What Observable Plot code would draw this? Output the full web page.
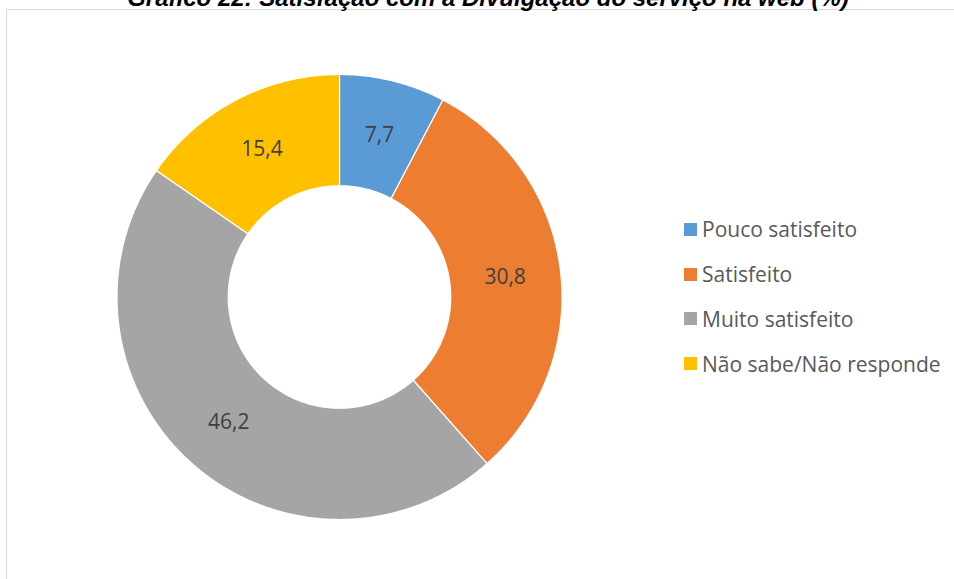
<!DOCTYPE html>
<html>
<head>
<meta charset="utf-8">
<script src="https://cdn.jsdelivr.net/npm/d3@7"></script>
<script src="https://cdn.jsdelivr.net/npm/@observablehq/plot@0.6"></script>
<style>
  html, body { margin: 0; padding: 0; background: #fff; overflow: hidden; }
  body { width: 954px; height: 579px; position: relative; font-family: "Open Sans", sans-serif; }
  #title { position: absolute; left: 0; width: 976px; top: -14px; text-align: center;
           font: italic bold 24px "Liberation Sans", Arial, sans-serif; line-height: 24px; color: #000; white-space: nowrap; }
  #frame { position: absolute; left: 6px; top: 9px; width: 960px; height: 600px;
           border-left: 1.5px solid #d9d9d9; border-top: 1.5px solid #d9d9d9; }
  #chart { position: absolute; left: 0; top: 0; }
  #legend { position: absolute; left: 684px; top: 207px; }
</style>
</head>
<body>
<div id="frame"></div>
<div id="title">Gráfico 22: Satisfação com a Divulgação do serviço na web (%)</div>
<div id="chart"></div>
<div id="legend"></div>
<script>
const categories = ["Pouco satisfeito", "Satisfeito", "Muito satisfeito", "Não sabe/Não responde"];
const values = [7.7, 30.8, 46.2, 15.4];
const labels = ["7,7", "30,8", "46,2", "15,4"];
const colors = ["#5B9BD5", "#ED7D31", "#A5A5A5", "#FFC000"];

const innerR = 0.5, outerR = 1, labelR = 0.75;
const arcs = d3.pie().sort(null).value(d => d)(values);

// polygon outline for each sector, in data units (angle 0 at top, clockwise)
const pts = (a, r) => ({x: r * Math.sin(a), y: r * Math.cos(a)});
const sectors = arcs.map((a, i) => {
  const n = Math.max(4, Math.ceil((a.endAngle - a.startAngle) * 120));
  const outer = d3.range(n + 1).map(k => pts(a.startAngle + (a.endAngle - a.startAngle) * k / n, outerR));
  const inner = d3.range(n + 1).map(k => pts(a.endAngle - (a.endAngle - a.startAngle) * k / n, innerR));
  return [...outer, ...inner, outer[0]].map(p => ({...p, cat: categories[i]}));
});
const labelData = arcs.map((a, i) => ({...pts((a.startAngle + a.endAngle) / 2, labelR), label: labels[i]}));

const chart = Plot.plot({
  width: 954,
  height: 579,
  margin: 0,
  x: {domain: [-1, 1], range: [116.5, 561.5], axis: null},
  y: {domain: [-1, 1], range: [519, 74], axis: null},
  marks: [
    ...sectors.map((s, i) => Plot.line(s, {x: "x", y: "y", fill: colors[i], stroke: "#fff", strokeWidth: 1.2, curve: "linear"})),
    Plot.text(labelData, {x: "x", y: "y", text: "label", fill: "#404040", fontSize: 21,
      fontFamily: "'Open Sans', sans-serif"})
  ]
});
document.getElementById("chart").appendChild(chart);

const legend = Plot.legend({
  color: {domain: categories, range: colors},
  legend: "swatches",
  columns: 1,
  swatchSize: 13,
  style: {fontSize: "21px", fontFamily: "'Open Sans', sans-serif", color: "#595959"}
});
document.getElementById("legend").appendChild(legend);

// Spread legend rows to match the reference spacing
legend.querySelectorAll("div").forEach(d => {
  if (d.querySelector("svg") && d.children.length <= 2) {
    d.style.height = "44.8px";
    d.style.lineHeight = "26px";
    d.style.display = "flex";
    d.style.alignItems = "center";
    d.style.margin = "0";
    d.style.padding = "0";
    const sw = d.querySelector("svg");
    if (sw) sw.style.marginRight = "5px";
  }
});
</script>
</body>
</html>
